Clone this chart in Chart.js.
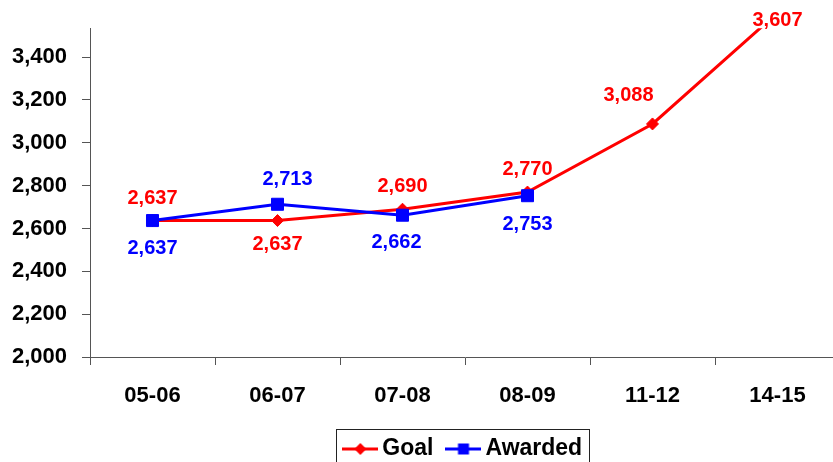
<!DOCTYPE html>
<html><head><meta charset="utf-8">
<script src="https://cdn.jsdelivr.net/npm/chart.js@4/dist/chart.umd.min.js"></script>
<style>
html,body{margin:0;padding:0;width:833px;height:462px;overflow:hidden;background:#fff}
#wrap{position:absolute;left:0;top:0;width:850px;height:475px}
</style>
</head><body><div id="wrap"><canvas id="c" width="850" height="475"></canvas></div>
<script>
// ---- data ----
const categories = ['05-06', '06-07', '07-08', '08-09', '11-12', '14-15'];
const goal = [2637, 2637, 2690, 2770, 3088, 3607];
const awarded = [2637, 2713, 2662, 2753, null, null];
const yTicks = [2000, 2200, 2400, 2600, 2800, 3000, 3200, 3400];
const seriesNames = ['Goal', 'Awarded'];

// ---- styles ----
const RED = '#FF0000', BLUE = '#0000FF', AXIS = '#555555';
const FONT = "'Liberation Sans', Arial, sans-serif";
// label placement relative to each point (style, not data)
const goalLabelOffsets = [[0, -22], [0, 24], [0, -23], [0, -23], [-24, -28], [0, -24]];
const awardedLabelOffsets = [[0, 28], [10, -25], [-6, 27], [0, 29]];

Chart.defaults.font.family = FONT;

function makeIcon(color, shape) {
  const cv = document.createElement('canvas');
  cv.width = 36; cv.height = 16;
  const g = cv.getContext('2d');
  g.strokeStyle = color; g.fillStyle = color; g.lineWidth = 3;
  g.beginPath(); g.moveTo(0, 8); g.lineTo(36, 8); g.stroke();
  g.beginPath();
  if (shape === 'diamond') { g.moveTo(18, 2); g.lineTo(24, 8); g.lineTo(18, 14); g.lineTo(12, 8); g.closePath(); }
  else { g.rect(12.5, 2.5, 11, 11); }
  g.fill();
  return cv;
}
const icons = [makeIcon(RED, 'diamond'), makeIcon(BLUE, 'square')];

const LEG_PAD = 19.5;
const legendPlacer = {
  id: 'legendPlacer',
  afterLayout(chart) {
    const L = chart.legend;
    if (!L) return;
    const dx = 46;
    L.left += dx; L.right += dx;
    const h = L.height;
    L.top = 418; L.bottom = L.top + h;
  },
  afterDraw(chart) {
    const L = chart.legend;
    if (!L || !L.lineWidths) return;
    const lw = L.lineWidths[0];
    const x0 = (L.left + LEG_PAD + L.right - lw) / 2;
    const left = x0 - 13.5;
    const right = x0 + lw - LEG_PAD + 7;
    const top = L.top + LEG_PAD - 8.5;
    const ctx = chart.ctx;
    ctx.save();
    ctx.strokeStyle = '#222'; ctx.lineWidth = 1;
    ctx.strokeRect(Math.round(left) + 0.5, Math.round(top) + 0.5, Math.round(right - left), 80);
    ctx.restore();
  }
};

const valueLabels = {
  id: 'valueLabels',
  afterDatasetsDraw(chart) {
    const ctx = chart.ctx;
    ctx.save();
    ctx.font = 'bold 20px ' + FONT;
    ctx.textAlign = 'center';
    ctx.textBaseline = 'middle';
    chart.data.datasets.forEach((ds, i) => {
      const meta = chart.getDatasetMeta(i);
      ctx.fillStyle = ds.borderColor;
      meta.data.forEach((pt, j) => {
        const v = ds.data[j];
        if (v === null || v === undefined) return;
        const off = ds.labelOffsets[j] || [0, -22];
        const x = pt.x + off[0];
        const y = Math.max(pt.y + off[1], 20);
        ctx.fillText(v.toLocaleString('en-US'), x, y);
      });
    });
    ctx.restore();
  }
};

new Chart(document.getElementById('c'), {
  type: 'line',
  data: {
    labels: categories,
    datasets: [
      { label: seriesNames[0], data: goal, borderColor: RED, backgroundColor: RED, borderWidth: 3, order: 1,
        pointStyle: 'rectRot', pointRadius: 6, pointBorderWidth: 1, tension: 0, labelOffsets: goalLabelOffsets },
      { label: seriesNames[1], data: awarded, borderColor: BLUE, backgroundColor: BLUE, borderWidth: 3, order: 0,
        pointStyle: 'rect', pointRadius: 8.5, pointBorderWidth: 1, tension: 0, labelOffsets: awardedLabelOffsets }
    ]
  },
  options: {
    responsive: false, animation: false, devicePixelRatio: 1,
    layout: { padding: { top: 28, left: 0, right: 10, bottom: 0 } },
    scales: {
      x: {
        offset: true,
        grid: { offset: true, drawOnChartArea: false, color: AXIS, tickLength: 8 },
        border: { color: AXIS, width: 1 },
        ticks: { color: '#000', font: { size: 22, weight: 'bold' }, padding: 18, maxRotation: 0, autoSkip: false },
        afterFit(s) { s.height = s.chart.height - 357 - (s.chart.legend ? s.chart.legend.height : 0); }
      },
      y: {
        min: 2000, max: 3535,
        afterBuildTicks(s) { s.ticks = yTicks.map(v => ({ value: v })); },
        grid: { drawOnChartArea: false, color: AXIS, tickLength: 8 },
        border: { color: AXIS, width: 1 },
        ticks: { color: '#000', font: { size: 22, weight: 'bold' }, padding: 15,
          callback: v => Number(v).toLocaleString('en-US') },
        afterFit(s) { s.width = 90; }
      }
    },
    plugins: {
      tooltip: { enabled: false },
      legend: {
        position: 'bottom',
        labels: {
          usePointStyle: true, pointStyleWidth: 21, padding: LEG_PAD, color: '#000',
          font: { size: 23, weight: 'bold' },
          generateLabels(chart) {
            return chart.data.datasets.map((ds, i) => ({
              text: ds.label, fillStyle: ds.borderColor, strokeStyle: ds.borderColor,
              fontColor: '#000', lineWidth: 0, hidden: false, datasetIndex: i, pointStyle: icons[i]
            }));
          }
        }
      }
    }
  },
  plugins: [legendPlacer, valueLabels]
});
</script>
</body></html>
